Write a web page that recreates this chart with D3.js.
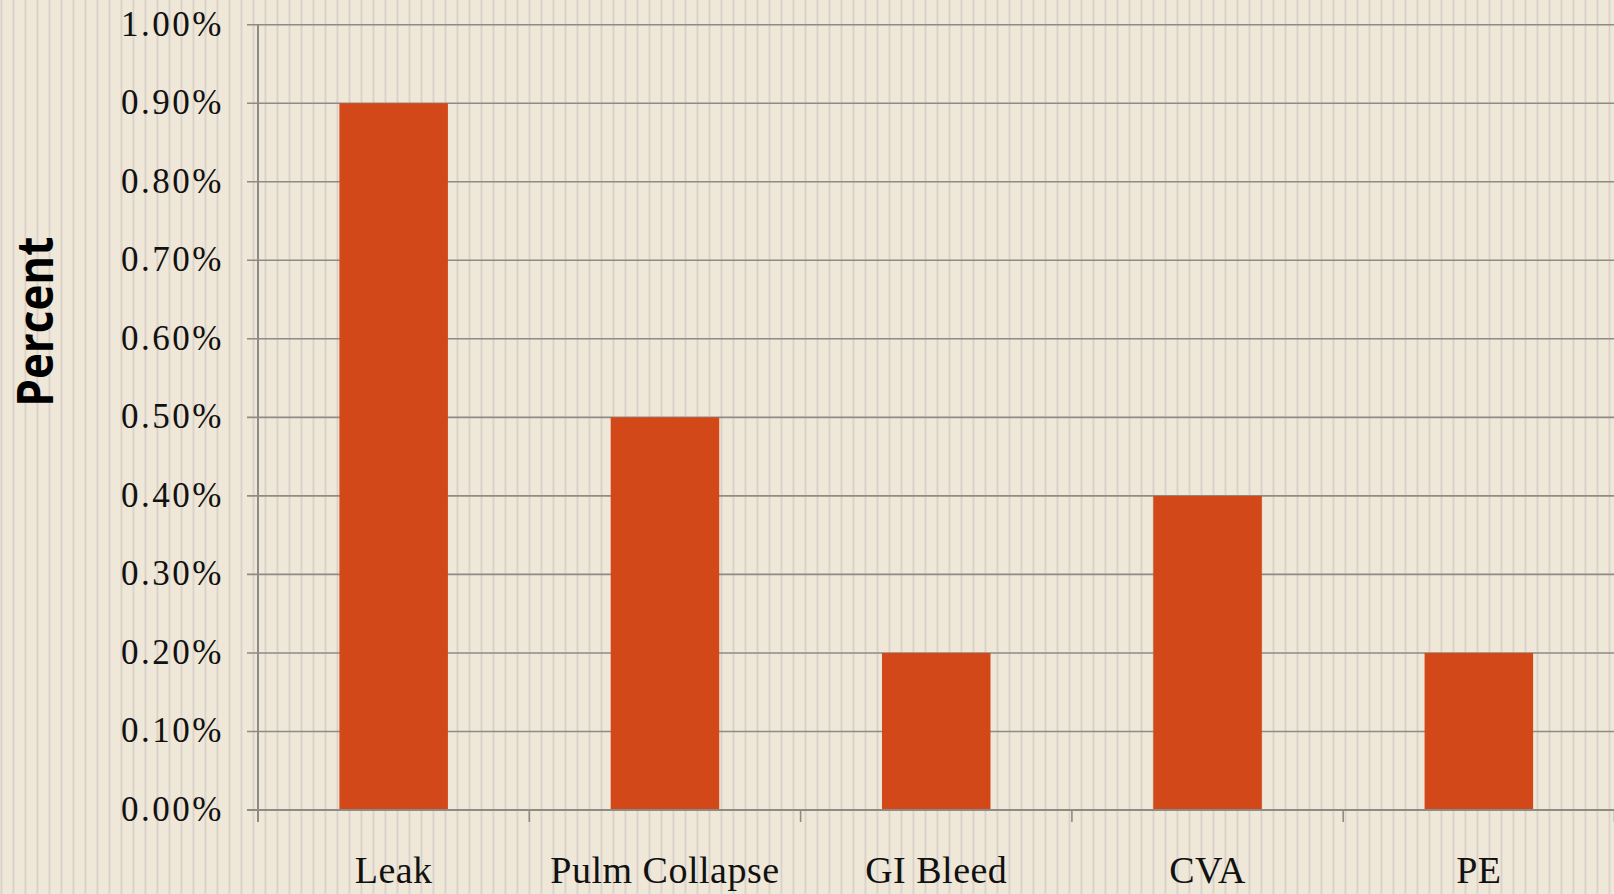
<!DOCTYPE html>
<html>
<head>
<meta charset="utf-8">
<script src="https://cdn.jsdelivr.net/npm/d3@7"></script>
<style>
  html, body { margin: 0; padding: 0; background: #efe7d7; }
  svg { display: block; }
</style>
</head>
<body>
<div id="chart"></div>
<script>
const categories = ['Leak', 'Pulm Collapse', 'GI Bleed', 'CVA', 'PE'];
const values = [0.9, 0.5, 0.2, 0.4, 0.2];
const yTicks = [0, 0.1, 0.2, 0.3, 0.4, 0.5, 0.6, 0.7, 0.8, 0.9, 1.0];
const yTitle = 'Percent';

const width = 1614;
const height = 894;
const plotLeft = 258;
const plotTop = 24.7;
const plotBottom = 810;

const svg = d3.select('#chart')
  .append('svg')
  .attr('width', width)
  .attr('height', height);

// striped paper background
const pat = svg.append('defs')
  .append('pattern')
  .attr('id', 'stripes')
  .attr('patternUnits', 'userSpaceOnUse')
  .attr('x', 0.6)
  .attr('width', 12)
  .attr('height', 10);
pat.append('rect')
  .attr('width', 12)
  .attr('height', 10)
  .style('fill', '#efe7d7');
pat.append('rect')
  .attr('x', 0)
  .attr('width', 1.5)
  .attr('height', 10)
  .style('fill', '#d5cdc4');

svg.append('rect')
  .attr('width', width)
  .attr('height', height)
  .style('fill', 'url(#stripes)');

const x = d3.scaleBand()
  .domain(categories)
  .range([plotLeft, width + 0.5])
  .paddingInner(0.6)
  .paddingOuter(0.3);

const y = d3.scaleLinear()
  .domain([0, 1])
  .range([plotBottom, plotTop]);

const g = svg.append('g');

// gridlines (with the little tick stub left of the axis)
g.selectAll('.grid')
  .data(yTicks)
  .enter().append('line')
  .attr('class', 'grid')
  .attr('x1', plotLeft - 11)
  .attr('x2', width)
  .attr('y1', d => y(d))
  .attr('y2', d => y(d))
  .style('stroke', '#8e8b87')
  .style('stroke-width', 1.6);

// bars
g.selectAll('.bar')
  .data(values)
  .enter().append('rect')
  .attr('class', 'bar')
  .attr('x', (d, i) => x(categories[i]))
  .attr('width', x.bandwidth())
  .attr('y', d => y(d))
  .attr('height', d => y(0) - y(d))
  .style('fill', '#d24818');

// y axis line
g.append('line')
  .attr('x1', plotLeft)
  .attr('x2', plotLeft)
  .attr('y1', plotTop)
  .attr('y2', plotBottom + 12)
  .style('stroke', '#8e8b87')
  .style('stroke-width', 2);

// category boundary ticks
const bounds = d3.range(categories.length + 1).map(i => plotLeft + i * x.step());
g.selectAll('.xtick')
  .data(bounds.slice(1))
  .enter().append('line')
  .attr('class', 'xtick')
  .attr('x1', d => d)
  .attr('x2', d => d)
  .attr('y1', plotBottom)
  .attr('y2', plotBottom + 12)
  .style('stroke', '#8e8b87')
  .style('stroke-width', 1.6);

// x axis line
g.append('line')
  .attr('x1', plotLeft - 11)
  .attr('x2', width)
  .attr('y1', plotBottom)
  .attr('y2', plotBottom)
  .style('stroke', '#8e8b87')
  .style('stroke-width', 2);

// y tick labels
const fmt = d => d3.format('.2f')(d) + '%';
g.selectAll('.ylab')
  .data(yTicks)
  .enter().append('text')
  .attr('class', 'ylab')
  .attr('x', 224)
  .attr('y', d => y(d) + 11)
  .attr('text-anchor', 'end')
  .style('font-family', '"Liberation Serif", serif')
  .style('font-size', '35px')
  .style('letter-spacing', '2.5px')
  .style('fill', '#111')
  .text(fmt);

// category labels
g.selectAll('.xlab')
  .data(categories)
  .enter().append('text')
  .attr('class', 'xlab')
  .attr('x', d => x(d) + x.bandwidth() / 2)
  .attr('y', 883)
  .attr('text-anchor', 'middle')
  .style('font-family', '"Liberation Serif", serif')
  .style('font-size', '38px')
  .style('letter-spacing', '0.5px')
  .style('fill', '#111')
  .text(d => d);

// axis title
svg.append('text')
  .attr('transform', `translate(53, ${(236.7 + 406.7) / 2}) rotate(-90)`)
  .attr('text-anchor', 'middle')
  .attr('textLength', 170)
  .attr('lengthAdjust', 'spacingAndGlyphs')
  .style('font-family', '"Open Sans", sans-serif')
  .style('font-weight', 'bold')
  .style('font-size', '50px')
  .style('fill', '#000')
  .text(yTitle);
</script>
</body>
</html>
